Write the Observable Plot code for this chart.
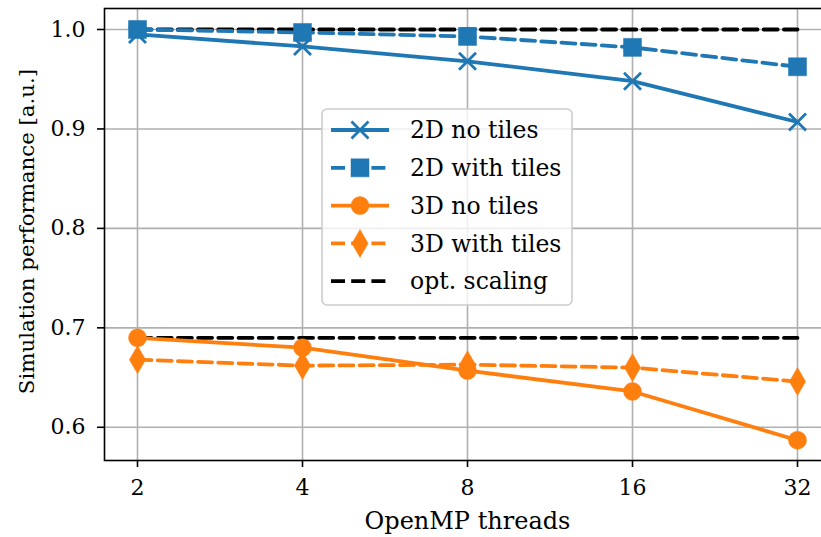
<!DOCTYPE html>
<html>
<head>
<meta charset="utf-8">
<script src="https://cdn.jsdelivr.net/npm/d3@7"></script>
<script src="https://cdn.jsdelivr.net/npm/@observablehq/plot@0.6"></script>
<style>
  html, body { margin: 0; padding: 0; background: #fff; }
  #chart { width: 821px; height: 537px; overflow: hidden; }
</style>
</head>
<body>
<div id="chart"></div>
<script>
// Thread counts (log2 axis)
const threads = [2, 4, 8, 16, 32];
const yTicks = [0.6, 0.7, 0.8, 0.9, 1.0];

// Simulation performance per series [a.u.]
const perf2DNoTiles = [0.995, 0.983, 0.968, 0.948, 0.907];
const perf2DTiles   = [1.000, 0.997, 0.993, 0.982, 0.9625];
const perf3DNoTiles = [0.690, 0.680, 0.657, 0.636, 0.587];
const perf3DTiles   = [0.668, 0.662, 0.663, 0.660, 0.646];

// Ideal scaling reference levels (2D and 3D)
const optLevels = [1.0, 0.690];

const seriesNames = ["2D no tiles", "2D with tiles", "3D no tiles", "3D with tiles"];
const seriesValues = [perf2DNoTiles, perf2DTiles, perf3DNoTiles, perf3DTiles];
const optLabel = "opt. scaling";

const BLUE = "#1f77b4", ORANGE = "#ff7f0e";
const FONT = "DejaVu Serif";
const LW = 3.8;
const DASH = "14,6.2";

// Marker shapes; r passed to the dot mark is the half-extent in px
const half = size => Math.sqrt(size / Math.PI);
const symX = { draw(ctx, size) { const r = half(size); ctx.moveTo(-r, -r); ctx.lineTo(r, r); ctx.moveTo(-r, r); ctx.lineTo(r, -r); } };
const symSquare = { draw(ctx, size) { const r = half(size); ctx.rect(-r, -r, 2 * r, 2 * r); } };
const symCircle = { draw(ctx, size) { const r = half(size); ctx.moveTo(r, 0); ctx.arc(0, 0, r, 0, 2 * Math.PI); } };
const symThinDiamond = { draw(ctx, size) { const r = half(size); ctx.moveTo(0, -r); ctx.lineTo(0.58 * r, 0); ctx.lineTo(0, r); ctx.lineTo(-0.58 * r, 0); ctx.closePath(); } };

const styles = [
  { color: BLUE,   dash: null, symbol: symX,           r: 8.5, filled: false },
  { color: BLUE,   dash: DASH, symbol: symSquare,      r: 9,   filled: true },
  { color: ORANGE, dash: null, symbol: symCircle,      r: 9,   filled: true },
  { color: ORANGE, dash: DASH, symbol: symThinDiamond, r: 14,  filled: true }
];

const rows = seriesNames.map((name, i) =>
  threads.map((t, j) => ({ series: name, threads: t, value: seriesValues[i][j] })));
const optRows = optLevels.flatMap((lvl, k) =>
  [threads[0], threads[threads.length - 1]].map(t => ({ level: k, threads: t, value: lvl })));

const seriesMarks = rows.flatMap((data, i) => {
  const s = styles[i];
  return [
    Plot.line(data, { x: "threads", y: "value", stroke: s.color, strokeWidth: LW, strokeDasharray: s.dash }),
    Plot.dot(data, {
      x: "threads", y: "value", symbol: s.symbol, r: s.r,
      fill: s.filled ? s.color : "none",
      stroke: s.color, strokeWidth: s.filled ? 0.5 : 2.8
    })
  ];
});

const plot = Plot.plot({
  width: 821,
  height: 537,
  marginLeft: 104,
  marginRight: -9,
  marginTop: 8,
  marginBottom: 77,
  style: { fontFamily: FONT, fontSize: "22px", background: "white", color: "black" },
  x: { type: "log", base: 2, domain: [2 / 2 ** 0.2, 32 * 2 ** 0.2] },
  y: { domain: [0.5666, 1.0211] },
  marks: [
    Plot.gridX(threads, { stroke: "#b0b0b0", strokeOpacity: 1, strokeWidth: 1.6 }),
    Plot.gridY(yTicks, { stroke: "#b0b0b0", strokeOpacity: 1, strokeWidth: 1.6 }),
    Plot.axisX(threads, { tickSize: 7, tickPadding: 12, tickFormat: d => String(d), strokeWidth: 1.6, label: null, fontSize: 22 }),
    Plot.axisY(yTicks, { tickSize: 7, tickPadding: 12, tickFormat: d3.format(".1f"), strokeWidth: 1.6, label: null, fontSize: 22 }),
    Plot.text(["OpenMP threads"], { frameAnchor: "bottom", lineAnchor: "middle", textAnchor: "middle", dy: 61, text: d => d, fontSize: 24 }),
    Plot.text(["Simulation performance [a.u.]"], { frameAnchor: "left", lineAnchor: "middle", textAnchor: "middle", rotate: -90, dx: -77, dy: -3, text: d => d, fontSize: 21.3 }),
    Plot.line(optRows, { x: "threads", y: "value", z: "level", stroke: "black", strokeWidth: LW, strokeDasharray: DASH }),
    ...seriesMarks,
    Plot.frame({ stroke: "black", strokeWidth: 1.6 })
  ]
});

document.getElementById("chart").appendChild(plot);

// Legend box inside the plot area
const svg = d3.select(plot);
const lg = svg.append("g").attr("transform", "translate(322,109)");
lg.append("rect")
  .attr("x", 0).attr("y", 0).attr("width", 250).attr("height", 196)
  .attr("rx", 5).attr("ry", 5)
  .attr("fill", "white").attr("fill-opacity", 0.8)
  .attr("stroke", "#cccccc").attr("stroke-width", 1.6);

const entries = seriesNames.map((name, i) => ({ name, ...styles[i] }))
  .concat([{ name: optLabel, color: "black", dash: DASH, symbol: null }]);

entries.forEach((e, i) => {
  const y = 21 + i * 37.8;
  const row = lg.append("g").attr("transform", `translate(0,${y})`);
  row.append("line")
    .attr("x1", 9).attr("x2", 67).attr("y1", 0).attr("y2", 0)
    .attr("stroke", e.color).attr("stroke-width", LW)
    .attr("stroke-dasharray", e.dash);
  if (e.symbol) {
    row.append("path")
      .attr("transform", "translate(38,0)")
      .attr("d", d3.symbol().type(e.symbol).size(Math.PI * e.r * e.r)())
      .attr("fill", e.filled ? e.color : "none")
      .attr("stroke", e.color).attr("stroke-width", e.filled ? 0.5 : 2.8);
  }
  row.append("text")
    .attr("x", 88).attr("y", 0).attr("dy", "0.35em")
    .attr("text-anchor", "start")
    .attr("font-family", FONT).attr("font-size", 23.5).attr("fill", "black")
    .text(e.name);
});
</script>
</body>
</html>
